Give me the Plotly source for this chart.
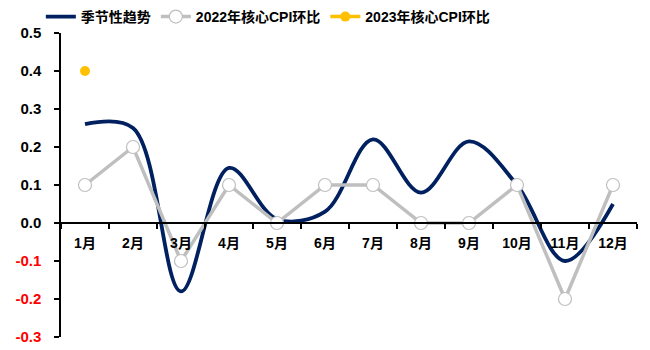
import plotly.graph_objects as go

# 月份
months = ["1月", "2月", "3月", "4月", "5月", "6月", "7月", "8月", "9月", "10月", "11月", "12月"]

# 季节性趋势
seasonal = [0.26, 0.25, -0.18, 0.145, 0.01, 0.03, 0.22, 0.08, 0.215, 0.10, -0.10, 0.05]

# 2022年核心CPI环比
cpi_2022 = [0.1, 0.2, -0.1, 0.1, 0.0, 0.1, 0.1, 0.0, 0.0, 0.1, -0.2, 0.1]

# 2023年核心CPI环比
months_2023 = ["1月"]
cpi_2023 = [0.4]

# y 轴刻度
y_ticks = [0.5, 0.4, 0.3, 0.2, 0.1, 0.0, -0.1, -0.2, -0.3]

FONT = "Liberation Sans, Arial, Noto Sans CJK SC"
NAVY = "#002060"
GRAY = "#BFBFBF"
GOLD = "#FFC000"

y_text = [
    f'<span style="color:#FF0000">{v:.1f}</span>' if v < 0 else f"{v:.1f}"
    for v in y_ticks
]

fig = go.Figure()
fig.add_trace(go.Scatter(
    x=months, y=seasonal, name="季节性趋势", mode="lines",
    line=dict(color=NAVY, width=3.8, shape="spline", smoothing=1.0),
))
fig.add_trace(go.Scatter(
    x=months, y=cpi_2022, name="2022年核心CPI环比", mode="lines+markers",
    line=dict(color=GRAY, width=3.5),
    marker=dict(size=13, color="white", line=dict(color=GRAY, width=1.2)),
))
fig.add_trace(go.Scatter(
    x=months_2023, y=cpi_2023, name="2023年核心CPI环比", mode="lines+markers",
    line=dict(color=GOLD, width=3.5),
    marker=dict(size=10, color=GOLD),
))

y_min, y_max = -0.3, 0.5
fig.update_layout(
    width=650, height=350,
    margin=dict(l=61, r=13, t=33, b=13, autoexpand=False),
    paper_bgcolor="white", plot_bgcolor="white",
    font=dict(family=FONT, color="black", size=14),
    showlegend=True,
    legend=dict(
        orientation="h", x=-0.035, y=1.0, xanchor="left", yanchor="bottom",
        font=dict(family=FONT, size=14, weight="bold"),
        bgcolor="rgba(0,0,0,0)", itemwidth=30, tracegroupgap=0,
    ),
    xaxis=dict(
        type="category", categoryorder="array", categoryarray=months,
        range=[-0.5, len(months) - 0.5],
        anchor="free", position=(0 - y_min) / (y_max - y_min),
        showline=True, linecolor="black", linewidth=2,
        ticks="outside", tickson="boundaries", ticklen=5, tickwidth=1.5, tickcolor="black",
        tickfont=dict(family=FONT, size=14, weight="bold"),
        ticklabelstandoff=7,
        showgrid=False, zeroline=False,
    ),
    yaxis=dict(
        range=[y_min, y_max], domain=[0, 1],
        tickvals=y_ticks, ticktext=y_text,
        showline=True, linecolor="black", linewidth=1.5,
        ticks="outside", ticklen=5, tickwidth=1.5, tickcolor="black",
        tickfont=dict(family=FONT, size=15, weight="bold"),
        ticklabelstandoff=10,
        showgrid=False, zeroline=False,
    ),
)

fig.write_html("out.html")
